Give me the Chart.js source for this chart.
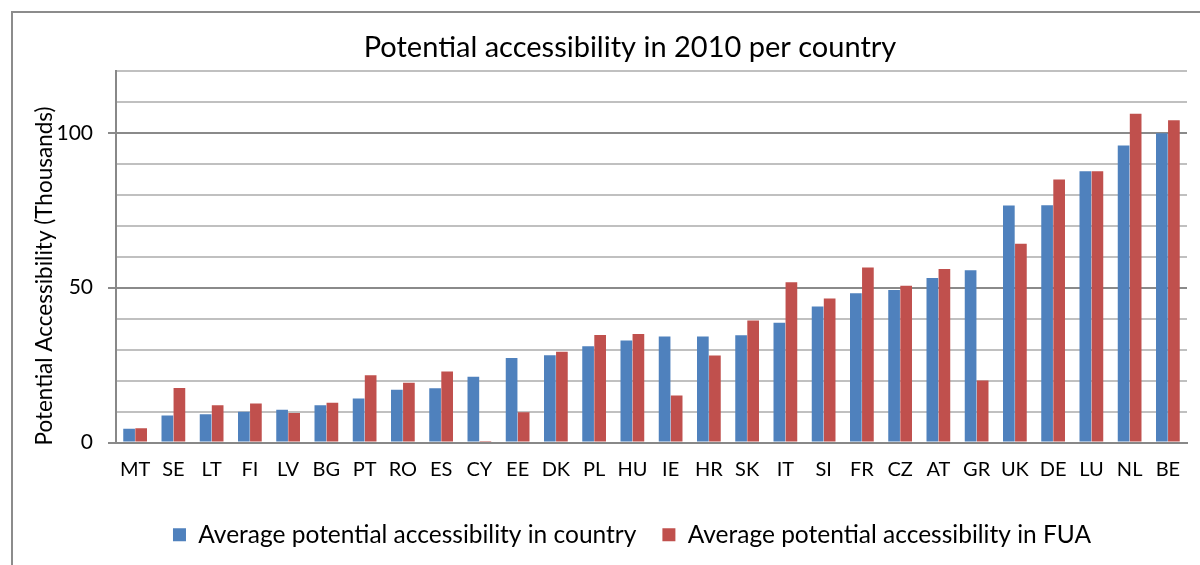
<!DOCTYPE html>
<html>
<head>
<meta charset="utf-8">
<script src="https://cdn.jsdelivr.net/npm/chart.js@4/dist/chart.umd.min.js"></script>
<style>
  html, body { margin: 0; padding: 0; background: #fff; }
  #wrap { width: 1200px; height: 565px; position: relative; }
</style>
</head>
<body>
<div id="wrap"><canvas id="myChart"></canvas></div>
<script>
// 국가 및 값 (천 단위)
var countries = ['MT', 'SE', 'LT', 'FI', 'LV', 'BG', 'PT', 'RO', 'ES', 'CY', 'EE', 'DK', 'PL', 'HU',
  'IE', 'HR', 'SK', 'IT', 'SI', 'FR', 'CZ', 'AT', 'GR', 'UK', 'DE', 'LU', 'NL', 'BE'];
var countryAvg = [4.4, 8.7, 9.1, 9.9, 10.6, 12.0, 14.2, 17.0, 17.5, 21.2, 27.3, 28.2, 31.1, 32.9,
  34.2, 34.2, 34.6, 38.7, 43.9, 48.2, 49.2, 53.1, 55.6, 76.5, 76.6, 87.6, 95.9, 99.8];
var fuaAvg = [4.6, 17.6, 12.0, 12.6, 9.5, 12.8, 21.7, 19.3, 22.9, 0.5, 9.8, 29.3, 34.7, 35.0,
  15.2, 28.1, 39.4, 51.7, 46.5, 56.5, 50.6, 56.0, 20.0, 64.2, 84.9, 87.6, 106.1, 104.0];
var labeledTicks = [0, 50, 100];
var yTitle = 'Potential Accessibility (Thousands)';

var FONT = 'Lato, "Open Sans", sans-serif';

// 바깥 테두리 (위, 왼쪽) + 제목/범례 위치 보정 + 세로축 제목
var framePlugin = {
  id: 'frame',
  afterLayout: function(chart) {
    if (chart.titleBlock) { chart.titleBlock.left += 21; chart.titleBlock.right += 21; }
    if (chart.legend) { chart.legend.left += 23; chart.legend.right += 23; }
  },
  afterDraw: function(chart) {
    var c = chart.ctx;
    c.save();
    c.strokeStyle = '#8c8c8c';
    c.lineWidth = 2;
    c.beginPath();
    c.moveTo(12, 565);
    c.lineTo(12, 12);
    c.lineTo(1200, 12);
    c.stroke();

    // 세로축 제목 (Excel 위치처럼 약간 아래쪽)
    c.translate(45, 276);
    c.rotate(-Math.PI / 2);
    c.fillStyle = '#000';
    c.font = '22.5px ' + FONT;
    c.textAlign = 'center';
    c.textBaseline = 'middle';
    c.fillText(yTitle, 0, 0);
    c.restore();
  }
};

var ctx = document.getElementById('myChart').getContext('2d');
var myChart = new Chart(ctx, {
  type: 'bar',
  data: {
    labels: countries,
    datasets: [{
      label: 'Average potential accessibility in country',
      data: countryAvg,
      backgroundColor: '#4f81bd'
    }, {
      label: 'Average potential accessibility in FUA',
      data: fuaAvg,
      backgroundColor: '#c0504d'
    }]
  },
  options: {
    responsive: true,
    maintainAspectRatio: false,
    animation: false,
    categoryPercentage: 0.63,
    barPercentage: 0.97,
    layout: { padding: { left: 31, right: 13, top: 0, bottom: 8 } },
    plugins: {
      title: {
        display: true,
        text: 'Potential accessibility in 2010 per country',
        color: '#000',
        font: { family: FONT, size: 29, weight: 'normal' },
        padding: { top: 30, bottom: 6 }
      },
      legend: {
        position: 'bottom',
        labels: {
          color: '#000',
          font: { family: FONT, size: 24.5 },
          boxWidth: 13,
          boxHeight: 13,
          padding: 26
        }
      },
      tooltip: { enabled: false }
    },
    scales: {
      x: {
        grid: { display: false },
        border: { color: '#888', width: 2 },
        ticks: { color: '#000', font: { family: FONT, size: 20 }, padding: 7, maxRotation: 0, autoSkip: false },
        afterFit: function(scale) { scale.height += 8; }
      },
      y: {
        min: 0,
        max: 120,
        border: { color: '#888', width: 2 },
        grid: {
          color: function(c) { return labeledTicks.indexOf(c.tick.value) >= 0 ? '#8a8a8a' : '#c0c0c0'; },
          lineWidth: 2,
          tickColor: function(c) { return labeledTicks.indexOf(c.tick.value) >= 0 ? '#8a8a8a' : 'rgba(0,0,0,0)'; },
          tickLength: 8
        },
        ticks: {
          stepSize: 10,
          color: '#000',
          font: { family: FONT, size: 21 },
          padding: 15,
          callback: function(v) { return labeledTicks.indexOf(v) >= 0 ? v : ''; }
        },
        afterFit: function(scale) { scale.width = 85; }
      }
    }
  },
  plugins: [framePlugin]
});
</script>
</body>
</html>
